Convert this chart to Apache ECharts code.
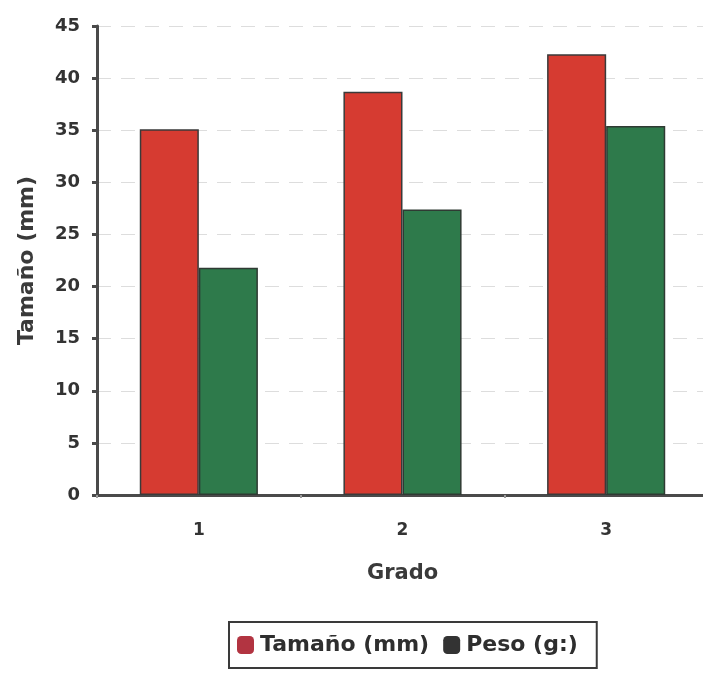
<!DOCTYPE html>
<html>
<head>
<meta charset="utf-8">
<script src="https://cdn.jsdelivr.net/npm/echarts@6/dist/echarts.min.js"></script>
<style>
html,body{margin:0;padding:0;background:#fff;}
#chart{width:703px;height:674px;}
</style>
</head>
<body>
<div id="chart"></div>
<script>
const categories = ['1', '2', '3'];
const tamano = [35.1, 38.7, 42.3];
const peso = [21.8, 27.4, 35.4];
const yTicks = [0, 5, 10, 15, 20, 25, 30, 35, 40, 45];
const seriesNames = ['Tamaño (mm)', 'Peso (g:)'];

const chart = echarts.init(document.getElementById('chart'), null, {renderer: 'canvas'});
const font = '"DejaVu Sans", Verdana, sans-serif';
chart.setOption({
  backgroundColor: '#ffffff',
  animation: false,
  grid: {left: 97, top: 26, width: 611, height: 469, containLabel: false, outerBoundsMode: 'none'},
  legend: {
    left: 229, top: 622,
    orient: 'horizontal',
    itemWidth: 17, itemHeight: 18, itemGap: 14,
    padding: [12, 19, 12, 8],
    borderColor: '#3a3a3a', borderWidth: 2,
    textStyle: {fontFamily: font, fontWeight: 'bold', fontSize: 22, color: '#2e2e2e', padding: [0, 0, 0, 1]},
    data: [
      {name: seriesNames[0], icon: 'roundRect', itemStyle: {color: '#b23441', borderWidth: 0}},
      {name: seriesNames[1], icon: 'roundRect', itemStyle: {color: '#333333', borderWidth: 0}}
    ]
  },
  xAxis: {
    type: 'category',
    data: categories,
    name: 'Grado',
    nameLocation: 'middle',
    nameGap: 68,
    nameTextStyle: {fontFamily: font, fontWeight: 'bold', fontSize: 21, color: '#3a3a3a'},
    axisLine: {lineStyle: {color: '#4a4a4a', width: 3}},
    axisTick: {show: true, length: 3, inside: false, lineStyle: {color: '#9a9a9a', width: 2}},
    axisLabel: {fontFamily: font, fontWeight: 'bold', fontSize: 17, color: '#333', margin: 27},
    splitLine: {show: false}
  },
  yAxis: {
    type: 'value',
    min: yTicks[0], max: yTicks[yTicks.length - 1], interval: 5,
    name: 'Tamaño (mm)',
    nameLocation: 'middle',
    nameGap: 59,
    nameRotate: 90,
    nameTextStyle: {fontFamily: font, fontWeight: 'bold', fontSize: 22, color: '#3a3a3a'},
    axisLine: {show: true, lineStyle: {color: '#4a4a4a', width: 3}},
    axisTick: {show: true, length: 5, lineStyle: {color: '#4a4a4a', width: 3}},
    axisLabel: {fontFamily: font, fontWeight: 'bold', fontSize: 18, color: '#333', margin: 17},
    splitLine: {show: true, lineStyle: {color: '#dddddd', width: 1, type: [14, 10]}}
  },
  series: [
    {
      name: seriesNames[0], type: 'bar', data: tamano,
      barGap: '0%', barCategoryGap: '42%',
      itemStyle: {color: '#d63b31', borderColor: '#3a3a3a', borderWidth: 1.5}
    },
    {
      name: seriesNames[1], type: 'bar', data: peso,
      itemStyle: {color: '#2e7a4b', borderColor: '#2f3a33', borderWidth: 1.5}
    }
  ]
});
</script>
</body>
</html>
